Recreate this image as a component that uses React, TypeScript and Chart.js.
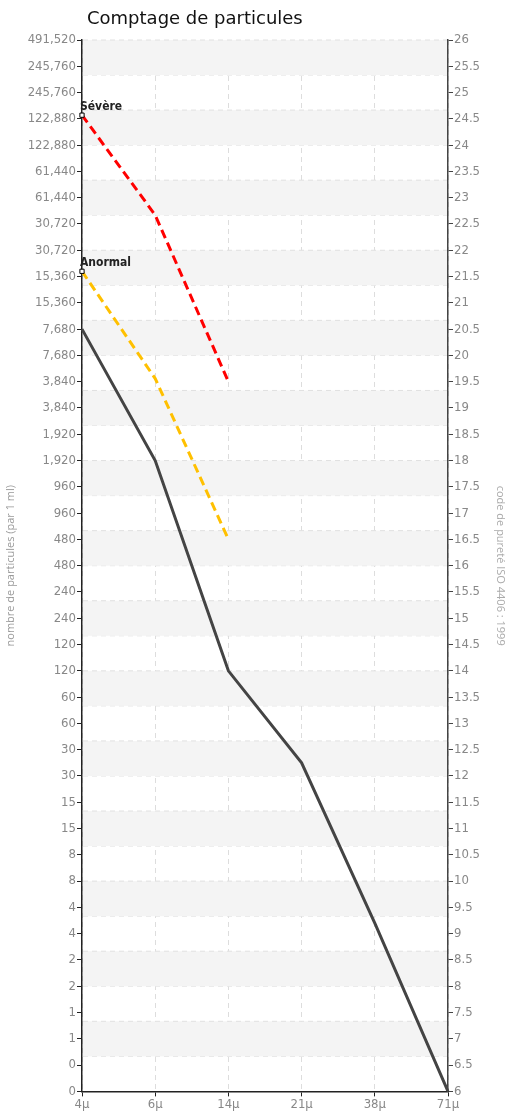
import React, { useEffect, useRef } from "react";
import { Chart, registerables } from "chart.js";
Chart.register(...registerables);

const sizes = ["4µ", "6µ", "14µ", "21µ", "38µ", "71µ"];
const measured = [20.5, 18, 14, 12.25, 9.2, 6];
const severe = [24.57, 22.67, 19.5, null, null, null];
const abnormal = [21.6, 19.56, 16.5, null, null, null];
const countLabels = ["0", "0", "1", "1", "2", "2", "4", "4", "8", "8", "15", "15", "30", "30", "60", "60", "120", "120", "240", "240", "480", "480", "960", "960", "1,920", "1,920", "3,840", "3,840", "7,680", "7,680", "15,360", "15,360", "30,720", "30,720", "61,440", "61,440", "122,880", "122,880", "245,760", "245,760", "491,520"];
const TITLE = "Comptage de particules";
const FONT = "'Liberation Sans Narrow', 'DejaVu Sans Condensed', 'Roboto', sans-serif";

const bandPlugin = {
  id: "bands",
  beforeDatasetsDraw(chart: any) {
    const { ctx, chartArea: a, scales } = chart;
    const y = scales.y;
    ctx.save();
    for (let i = 0; i < 30; i++) {
      const v0 = 6 + (i * 2) / 3, v1 = 6 + ((i + 1) * 2) / 3;
      const p0 = y.getPixelForValue(v0), p1 = y.getPixelForValue(v1);
      if (i % 2 === 1) {
        ctx.fillStyle = "#f4f4f4";
        ctx.fillRect(a.left + 1, p1, a.right - a.left - 2, p0 - p1);
      }
      ctx.strokeStyle = "#e0e0e0";
      ctx.setLineDash([5, 4]);
      ctx.lineWidth = 1;
      ctx.beginPath();
      ctx.moveTo(a.left + 1, p1);
      ctx.lineTo(a.right - 1, p1);
      ctx.stroke();
    }
    ctx.restore();
  },
  afterDatasetsDraw(chart: any) {
    const { ctx, chartArea: a } = chart;
    ctx.save();
    ctx.font = "18px 'DejaVu Sans', sans-serif";
    ctx.fillStyle = "#111";
    ctx.textBaseline = "alphabetic";
    ctx.fillText(TITLE, a.left + 5, 24);
    ctx.font = "bold 12px " + FONT;
    ctx.fillStyle = "#222";
    ctx.textBaseline = "bottom";
    const labels = [["Sévère", 1], ["Anormal", 2]] as const;
    labels.forEach(([t, di]) => {
      const p = chart.getDatasetMeta(di).data[0];
      ctx.fillText(t, p.x - 2, p.y - 2);
    });
    ctx.restore();
  },
};

export default function App() {
  const ref = useRef<HTMLCanvasElement>(null);
  useEffect(() => {
    const tickFont = { family: FONT, size: 13 };
    const chart = new Chart(ref.current!, {
      type: "line",
      data: {
        labels: sizes,
        datasets: [
          { data: measured, borderColor: "#444", borderWidth: 3, pointRadius: 0, tension: 0 },
          { data: severe, borderColor: "#ff0000", borderWidth: 3, borderDash: [9, 5], pointRadius: [3, 0, 0], pointStyle: "rect", pointBackgroundColor: "#fff", pointBorderColor: "#000", pointBorderWidth: 1 },
          { data: abnormal, borderColor: "#ffc000", borderWidth: 3, borderDash: [9, 5], pointRadius: [3, 0, 0], pointStyle: "rect", pointBackgroundColor: "#fff", pointBorderColor: "#000", pointBorderWidth: 1 },
        ] as any,
      },
      options: {
        animation: false,
        responsive: false,
        layout: { padding: { top: 40, bottom: 0, left: 0, right: 0 } },
        plugins: {
          legend: { display: false },
          tooltip: { enabled: false },
          title: { display: false },
        },
        scales: {
          x: {
            offset: false,
            grid: { color: "#ddd", tickColor: "#222", tickLength: 5 } as any,
            border: { color: "#222", width: 1.5, dash: [5, 4] } as any,
            ticks: { color: "#888", font: tickFont, padding: 0, maxRotation: 0 },
          },
          y: {
            min: 6, max: 26, position: "left",
            afterFit: (s: any) => { s.width = 82; },
            border: { color: "#222", width: 1.5 },
            grid: { drawOnChartArea: false, tickColor: "#222", tickLength: 5 },
            ticks: { stepSize: 0.5, autoSkip: false, color: "#888", font: tickFont, padding: 1, callback: (v: any) => countLabels[Math.round((v - 6) * 2)] },
            title: { display: true, text: "nombre de particules (par 1 ml)", color: "#999", font: { family: "'Open Sans', sans-serif", size: 11 }, padding: 4 },
          },
          y2: {
            min: 6, max: 26, position: "right",
            afterFit: (s: any) => { s.width = 59; },
            border: { color: "#444", width: 1.5 },
            grid: { drawOnChartArea: false, tickColor: "#444", tickLength: 5 },
            ticks: { stepSize: 0.5, autoSkip: false, color: "#888", font: tickFont, padding: 1, callback: (v: any) => String(v) },
            title: { display: true, text: "code de pureté ISO 4406 : 1999", color: "#aaa", font: { family: "'Open Sans', sans-serif", size: 11 }, padding: 0 },
          },
        },
      } as any,
      plugins: [bandPlugin],
    });
    return () => chart.destroy();
  }, []);
  return (
    <div style={{ position: "fixed", left: 0, top: 0, width: 507, height: 1117, background: "#fff" }}>
      <canvas ref={ref} width={507} height={1112} style={{ width: 507, height: 1112 }} />
    </div>
  );
}
